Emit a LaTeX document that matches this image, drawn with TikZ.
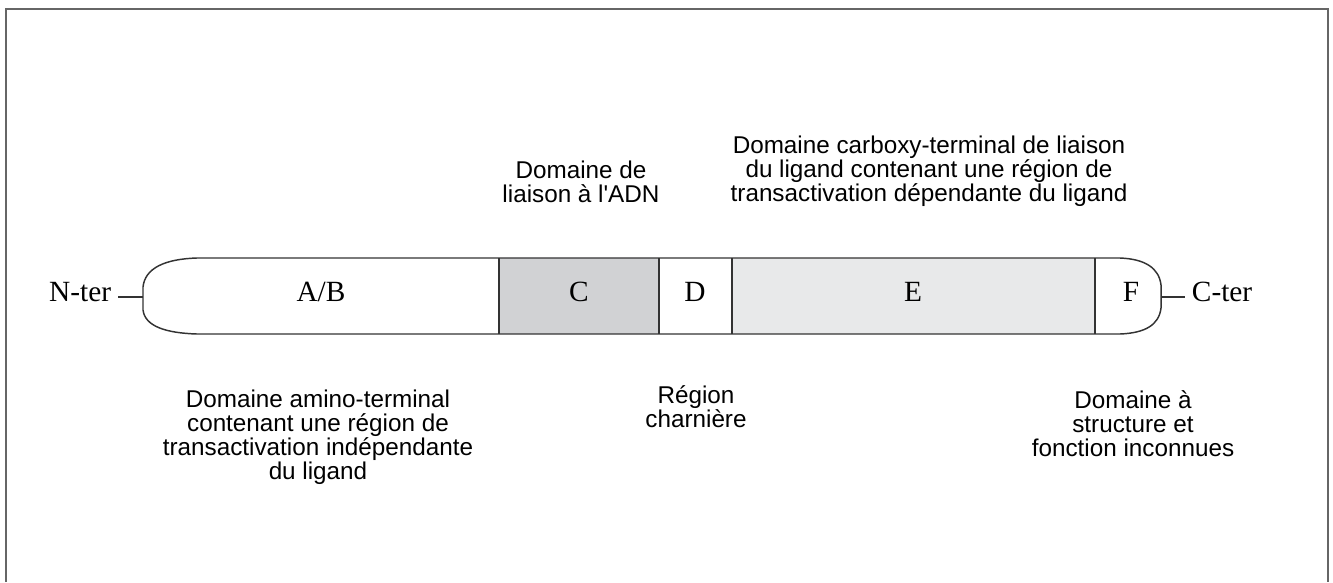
\documentclass[tikz,border=0pt]{standalone}
\usepackage{fontspec}
\setmainfont{Liberation Serif}
\setsansfont{Liberation Sans}[Ligatures=TeXOff]
\usepackage{tikz}

\definecolor{barline}{HTML}{333333}
\definecolor{fillC}{HTML}{D1D2D4}
\definecolor{fillE}{HTML}{E8E9EA}
\definecolor{framegray}{HTML}{666666}

\begin{document}
\begin{tikzpicture}[
    x=0.75pt, y=-0.75pt,
    outline/.style={draw=barline, line width=1.1pt},
    tick/.style={draw=barline, line width=0.8pt},
    letter/.style={font=\fontsize{22}{24}\selectfont, text height=0.66em, text depth=0pt, inner sep=0pt},
    term/.style={font=\fontsize{22}{24}\selectfont, text height=0.66em, text depth=0pt, inner sep=5pt},
    caption/.style={font=\sffamily\fontsize{18.2}{18}\selectfont, align=center, inner sep=0pt}
    ]

    \useasboundingbox (0,0) rectangle (1333,582);

    % Frame
    \draw[framegray, line width=1.5pt] (6,582) -- (6,9) -- (1328,9) -- (1328,582);

    % Shaded domains
    \fill[fillC] (499,258) rectangle (659,334);
    \fill[fillE] (732,258) rectangle (1095,334);

    % Receptor outline
    \draw[outline] (197,258) -- (1120,258)
        .. controls (1145,259) and (1159,268) .. (1161,285) -- (1161,308)
        .. controls (1159,325) and (1145,333) .. (1120,334) -- (197,334)
        .. controls (165,333) and (145,326) .. (143,310) -- (143,287)
        .. controls (145,268) and (165,259) .. (197,258) -- cycle;
    \foreach \xx in {499,659,732,1095}
        \draw[outline] (\xx,258) -- (\xx,334);

    % Domains
    \node[letter] (ab) at (321,297) {A/B};
    \node[letter] (c) at (579,297) {C};
    \node[letter] (d) at (695,297) {D};
    \node[letter] (e) at (913,297) {E};
    \node[letter] (f) at (1131,297) {F};

    % Ends
    \node[term, anchor=east] (nter) at (118,297) {N-ter};
    \coordinate (nend) at (143,297);
    \draw[tick] (nter) -- (nend);
    \node[term, anchor=west] (cter) at (1185,297) {C-ter};
    \coordinate (cend) at (1161,297);
    \draw[tick] (cend) -- (cter);

    % Captions above
    \node[caption, anchor=north] (dnacap) at (581,161) {Domaine de\\liaison à l'ADN};
    \node[caption, anchor=north] (ligcap) at (929,136) {Domaine carboxy-terminal de liaison\\du ligand contenant une région de\\transactivation dépendante du ligand};

    % Captions below
    \node[caption, anchor=north] (aminocap) at (318,390) {Domaine amino-terminal\\contenant une région de\\transactivation indépendante\\du ligand};
    \node[caption, anchor=north] (hingecap) at (696,385) {Région\\charnière};
    \node[caption, anchor=north] (fcap) at (1133,390) {Domaine à\\structure et\\fonction inconnues};

\end{tikzpicture}
\end{document}
